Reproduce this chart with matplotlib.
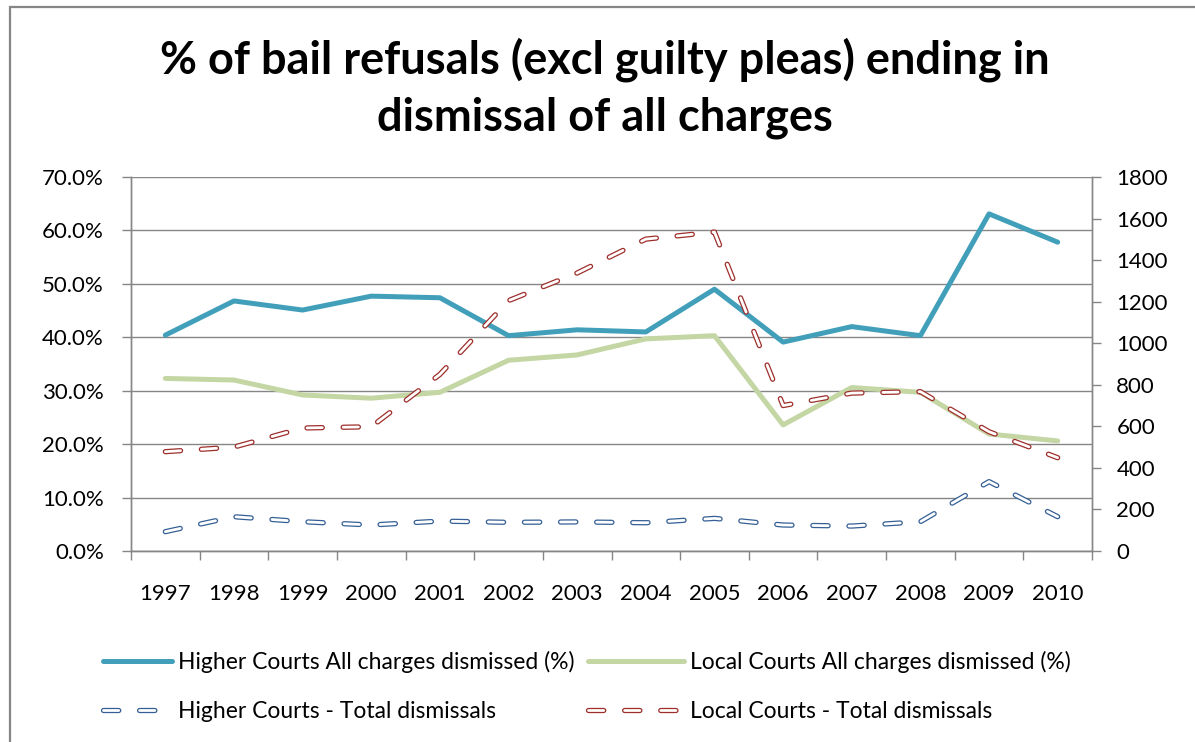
import matplotlib
matplotlib.use("Agg")
import matplotlib.pyplot as plt
from matplotlib.patches import Rectangle
from matplotlib.lines import Line2D
from matplotlib.ticker import FuncFormatter, MultipleLocator, FixedLocator

plt.rcParams['font.family'] = ['Lato', 'DejaVu Sans']
plt.rcParams['lines.scale_dashes'] = False

years = ['1997', '1998', '1999', '2000', '2001', '2002', '2003',
         '2004', '2005', '2006', '2007', '2008', '2009', '2010']
higher_pct = [40.4, 46.8, 45.1, 47.7, 47.4, 40.3, 41.4, 41.0, 49.0, 39.1, 42.0, 40.3, 63.1, 57.8]
local_pct = [32.3, 32.0, 29.2, 28.6, 29.7, 35.7, 36.7, 39.7, 40.3, 23.6, 30.6, 29.7, 21.9, 20.6]
higher_total = [93, 165, 141, 125, 144, 138, 140, 136, 157, 125, 120, 141, 334, 165]
local_total = [478, 500, 592, 598, 850, 1205, 1338, 1501, 1535, 700, 760, 767, 574, 449]

title_lines = ['% of bail refusals (excl guilty pleas) ending in',
               'dismissal of all charges']
labels = ['Higher Courts All charges dismissed (%)',
          'Local Courts All charges dismissed (%)',
          'Higher Courts - Total dismissals',
          'Local Courts - Total dismissals']

c_hi = '#419FBA'
c_lo = '#C4D6A4'
c_hi_t = '#355F95'
c_lo_t = '#9E2E2B'
gray = '#868686'

W, H = 1195, 742
fig = plt.figure(figsize=(W / 100, H / 100), dpi=100)
ax = fig.add_axes([131 / W, 1 - 551 / H, (1092 - 131) / W, (551 - 177) / H])
ax2 = ax.twinx()

DASH = (0, (11, 15))
LW_O, LW_I = 3.8, 2.0

x = list(range(len(years)))
ax.plot(x, higher_pct, color=c_hi, lw=3.6, solid_capstyle='round', solid_joinstyle='round', zorder=3)
ax.plot(x, local_pct, color=c_lo, lw=3.6, solid_capstyle='round', solid_joinstyle='round', zorder=3)

for vals, col in [(higher_total, c_hi_t), (local_total, c_lo_t)]:
    ax2.plot(x, vals, color=col, lw=LW_O, linestyle=DASH, dash_capstyle='round', zorder=3)
    ax2.plot(x, vals, color='white', lw=LW_I, linestyle=DASH, dash_capstyle='round', zorder=4)

ax.set_xlim(-0.5, len(years) - 0.5)
ax.set_ylim(0, 70)
ax2.set_ylim(0, 1800)
ax.yaxis.set_major_locator(MultipleLocator(10))
ax.yaxis.set_major_formatter(FuncFormatter(lambda v, p: f'{v:.1f}%'))
ax2.yaxis.set_major_locator(MultipleLocator(200))
ax.set_xticks(x)
ax.set_xticklabels(years)
ax.xaxis.set_minor_locator(FixedLocator([i - 0.5 for i in range(len(years) + 1)]))
FS = 16
ax.tick_params(axis='x', which='major', length=0, pad=24, labelsize=FS, labelcolor='black')
ax.tick_params(axis='x', which='minor', length=6.5, width=1, color=gray)
ax.tick_params(axis='y', length=6.5, width=1, color=gray, labelsize=FS, pad=13)
ax2.tick_params(axis='y', length=6.5, width=1, color=gray, labelsize=FS, pad=11)
ax.grid(axis='y', color=gray, lw=1.0)
ax.set_axisbelow(True)
for a in (ax, ax2):
    a.spines['top'].set_visible(False)
    for s in ('left', 'right', 'bottom'):
        a.spines[s].set_color(gray)
        a.spines[s].set_linewidth(1.0)

fig.text(605 / W, 1 - 60 / H, title_lines[0], ha='center', va='center', fontsize=32.5,
         fontweight='bold')
fig.text(605 / W, 1 - 118 / H, title_lines[1], ha='center', va='center', fontsize=32.5,
         fontweight='bold')

# legend (two columns placed separately)
h1 = Line2D([], [], color=c_hi, lw=3.6, solid_capstyle='round')
h2 = Line2D([], [], color=c_lo, lw=3.6, solid_capstyle='round')
h3 = (Line2D([], [], color=c_hi_t, lw=LW_O, linestyle=DASH, dash_capstyle='round'),
      Line2D([], [], color='white', lw=LW_I, linestyle=DASH, dash_capstyle='round'))
h4 = (Line2D([], [], color=c_lo_t, lw=LW_O, linestyle=DASH, dash_capstyle='round'),
      Line2D([], [], color='white', lw=LW_I, linestyle=DASH, dash_capstyle='round'))
LFS = 16.5
leg1 = fig.legend([h1, h3], [labels[0], labels[2]], loc='center left',
                  bbox_to_anchor=(103 / W, 1 - 686.5 / H), frameon=False, fontsize=LFS,
                  handlelength=3.0, handletextpad=0.27, labelspacing=1.25, borderpad=0,
                  borderaxespad=0)
leg2 = fig.legend([h2, h4], [labels[1], labels[3]], loc='center left',
                  bbox_to_anchor=(588 / W, 1 - 686.5 / H), frameon=False, fontsize=LFS,
                  handlelength=4.2, handletextpad=0.27, labelspacing=1.25, borderpad=0,
                  borderaxespad=0)

fig.add_artist(Rectangle((10 / W, -0.1), 1.2, (H - 6.5) / H + 0.1, transform=fig.transFigure,
                         fill=False, edgecolor=gray, lw=1.6))

fig.savefig('out.png', dpi=100, facecolor='white')
